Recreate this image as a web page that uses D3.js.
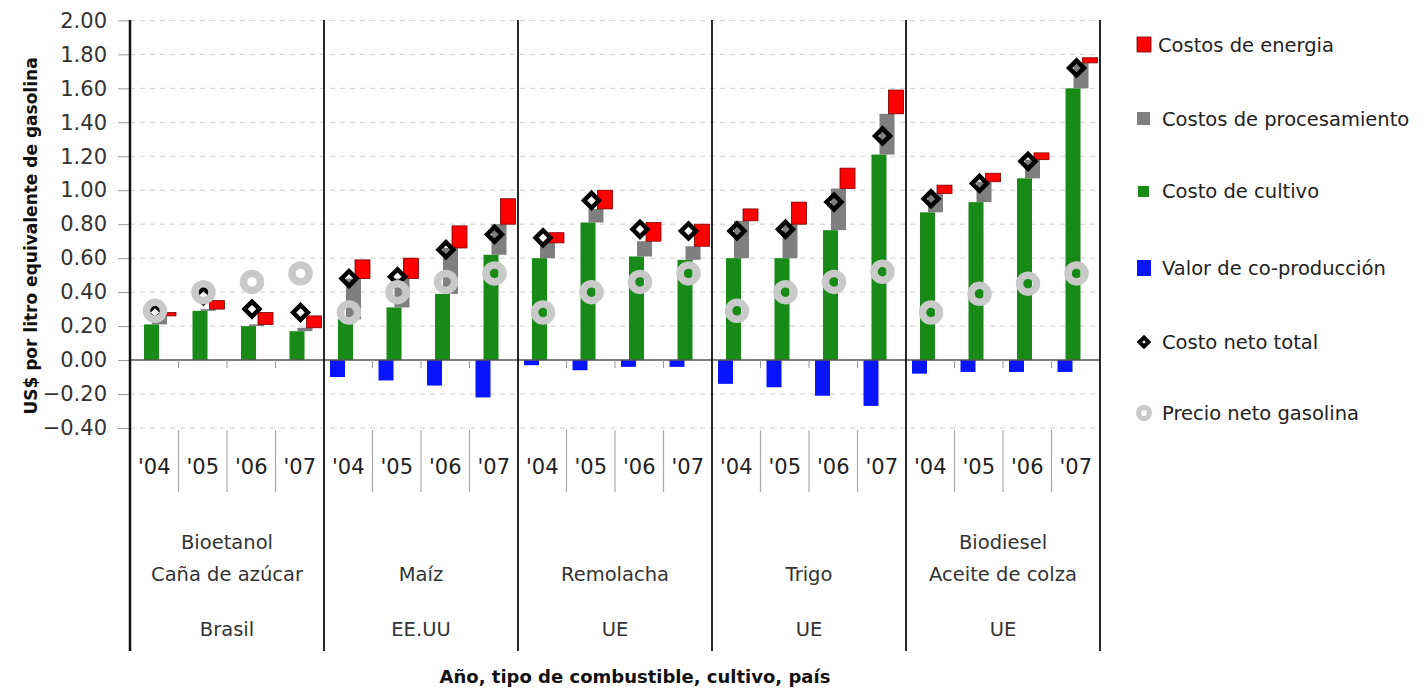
<!DOCTYPE html>
<html>
<head>
<meta charset="utf-8">
<script src="https://cdn.jsdelivr.net/npm/d3@7"></script>
<style>
  body { margin: 0; background: #fff; }
  svg { display: block; font-family: "DejaVu Sans", sans-serif; }
</style>
</head>
<body>
<div id="chart"></div>
<script>
// Data (US$ per litre gasoline equivalent)
const years = ["'04", "'05", "'06", "'07"];
const groupFuel = ["Bioetanol", "", "", "", "Biodiesel"];
const groupCrop = ["Caña de azúcar", "Maíz", "Remolacha", "Trigo", "Aceite de colza"];
const groupCountry = ["Brasil", "EE.UU", "UE", "UE", "UE"];

const costoCultivo = [0.21, 0.29, 0.20, 0.17, 0.24, 0.31, 0.39, 0.62, 0.60, 0.81, 0.61, 0.59, 0.60, 0.60, 0.765, 1.21, 0.87, 0.93, 1.07, 1.60];
const costosProcesamiento = [0.05, 0.01, 0.01, 0.02, 0.24, 0.17, 0.27, 0.18, 0.09, 0.08, 0.09, 0.08, 0.22, 0.20, 0.245, 0.24, 0.11, 0.12, 0.11, 0.15];
const costosEnergia = [0.02, 0.05, 0.07, 0.07, 0.11, 0.12, 0.13, 0.15, 0.06, 0.11, 0.11, 0.13, 0.07, 0.13, 0.12, 0.14, 0.05, 0.05, 0.04, 0.03];
const valorCoproduccion = [0, 0, 0, 0, -0.10, -0.12, -0.15, -0.22, -0.03, -0.06, -0.04, -0.04, -0.14, -0.16, -0.21, -0.27, -0.08, -0.07, -0.07, -0.07];
const costoNetoTotal = [0.28, 0.38, 0.30, 0.28, 0.48, 0.49, 0.65, 0.74, 0.72, 0.94, 0.77, 0.76, 0.76, 0.77, 0.93, 1.32, 0.95, 1.04, 1.17, 1.72];
const precioGasolina = [0.29, 0.40, 0.46, 0.51, 0.28, 0.40, 0.46, 0.51, 0.28, 0.40, 0.46, 0.51, 0.29, 0.40, 0.46, 0.52, 0.28, 0.39, 0.45, 0.51];
const yTicks = [-0.4, -0.2, 0, 0.2, 0.4, 0.6, 0.8, 1.0, 1.2, 1.4, 1.6, 1.8, 2.0];

const legendLabels = ["Costos de energia", "Costos de procesamiento", "Costo de cultivo", "Valor de co-producción", "Costo neto total", "Precio neto gasolina"];

// colours
const cRed = "#ff0000", cGray = "#7f7f7f", cGreen = "#178a17", cBlue = "#0814ff", cRing = "#c9c9c9";

const width = 1424, height = 691;
const svg = d3.select("#chart").append("svg").attr("width", width).attr("height", height);

const left = 130, right = 1100;
const slots = d3.range(groupCrop.length * years.length);
const x = d3.scaleBand().domain(slots).range([left, right]).padding(0);
const y = d3.scaleLinear().domain([-0.4, 2.0]).range([428, 20.4]);
const bw = 15;

// gridlines (dashed, faint)
svg.append("g").selectAll("line").data(yTicks.filter(d => d !== 0)).join("line")
  .attr("x1", left).attr("x2", right)
  .attr("y1", d => y(d)).attr("y2", d => y(d))
  .attr("stroke", "#cfcfcf").attr("stroke-width", 1).attr("stroke-dasharray", "5,5");

// y axis
const yAxis = svg.append("g").attr("transform", `translate(${left},0)`)
  .call(d3.axisLeft(y).tickValues(yTicks).tickFormat(d3.format(".2f")).tickSize(12).tickPadding(11));
yAxis.select(".domain").remove();
yAxis.selectAll(".tick line").attr("stroke", "#999");
yAxis.selectAll(".tick text").attr("font-size", 21).attr("fill", "#333")
  .attr("font-family", "DejaVu Sans, sans-serif");

// bars
const bars = svg.append("g");
bars.selectAll("rect.cop").data(slots).join("rect").attr("class", "cop")
  .attr("x", i => x(i) + 6).attr("width", bw)
  .attr("y", y(0)).attr("height", i => y(valorCoproduccion[i]) - y(0))
  .attr("fill", cBlue);
bars.selectAll("rect.cul").data(slots).join("rect").attr("class", "cul")
  .attr("x", i => x(i) + 14).attr("width", bw)
  .attr("y", i => y(costoCultivo[i])).attr("height", i => y(0) - y(costoCultivo[i]))
  .attr("fill", cGreen);
bars.selectAll("rect.pro").data(slots).join("rect").attr("class", "pro")
  .attr("x", i => x(i) + 22).attr("width", bw)
  .attr("y", i => y(costoCultivo[i] + costosProcesamiento[i]))
  .attr("height", i => y(costoCultivo[i]) - y(costoCultivo[i] + costosProcesamiento[i]))
  .attr("fill", cGray);
bars.selectAll("rect.ene").data(slots).join("rect").attr("class", "ene")
  .attr("x", i => x(i) + 31).attr("width", bw)
  .attr("y", i => y(costoCultivo[i] + costosProcesamiento[i] + costosEnergia[i]))
  .attr("height", i => y(costoCultivo[i] + costosProcesamiento[i]) - y(costoCultivo[i] + costosProcesamiento[i] + costosEnergia[i]))
  .attr("fill", cRed).attr("stroke", "#7a0000").attr("stroke-width", 0.8);

// zero line and frame lines
svg.append("line").attr("x1", left).attr("x2", right).attr("y1", y(0)).attr("y2", y(0))
  .attr("stroke", "#555").attr("stroke-width", 1.5);
// small ticks at zero between slots
svg.append("g").selectAll("line").data(slots.filter(i => i % 4 !== 0)).join("line")
  .attr("x1", i => x(i)).attr("x2", i => x(i)).attr("y1", y(0)).attr("y2", y(0) + 8)
  .attr("stroke", "#999");
// year dividers below the plot
svg.append("g").selectAll("line").data(slots.filter(i => i % 4 !== 0)).join("line")
  .attr("x1", i => x(i)).attr("x2", i => x(i)).attr("y1", 430).attr("y2", 492)
  .attr("stroke", "#aaa").attr("stroke-width", 1.2);
// group dividers (full height)
const groupEdges = d3.range(groupCrop.length + 1).map(g => g < groupCrop.length ? x(g * 4) : right);
svg.append("g").selectAll("line").data(groupEdges).join("line")
  .attr("x1", d => d).attr("x2", d => d).attr("y1", 20).attr("y2", 651)
  .attr("stroke", "#111").attr("stroke-width", (d, i) => i === 0 ? 2.5 : 1.8);

// markers: costo neto total (diamond) then precio gasolina (ring)
const diamond = d3.symbol().type(d3.symbolSquare).size(110);
svg.append("g").selectAll("path").data(slots).join("path")
  .attr("d", diamond)
  .attr("transform", i => `translate(${x(i) + 25},${y(costoNetoTotal[i])}) rotate(45)`)
  .attr("fill", "none").attr("stroke", "#000").attr("stroke-width", 4.5);
svg.append("g").selectAll("circle").data(slots).join("circle")
  .attr("cx", i => x(i) + 25).attr("cy", i => y(precioGasolina[i])).attr("r", 8.5)
  .attr("fill", "none").attr("stroke", cRing).attr("stroke-width", 7.5);

// year labels
svg.append("g").selectAll("text").data(slots).join("text")
  .attr("x", i => x(i) + x.bandwidth() / 2).attr("y", 474)
  .attr("text-anchor", "middle").attr("font-size", 21).attr("fill", "#222")
  .text(i => years[i % 4]);

// group labels
const gLab = svg.append("g").attr("font-size", 19.5).attr("fill", "#333").attr("text-anchor", "middle");
groupCrop.forEach((crop, g) => {
  const cx = (groupEdges[g] + groupEdges[g + 1]) / 2;
  if (groupFuel[g]) gLab.append("text").attr("x", cx).attr("y", 549).text(groupFuel[g]);
  gLab.append("text").attr("x", cx).attr("y", 581).text(crop);
  gLab.append("text").attr("x", cx).attr("y", 636).text(groupCountry[g]);
});

// axis titles
svg.append("text").attr("transform", "translate(37,236) rotate(-90)")
  .attr("text-anchor", "middle").attr("font-size", 17).attr("font-weight", "bold").attr("fill", "#111")
  .text("US$ por litro equivalente de gasolina");
svg.append("text").attr("x", 635).attr("y", 683)
  .attr("text-anchor", "middle").attr("font-size", 18).attr("font-weight", "bold").attr("fill", "#111")
  .text("Año, tipo de combustible, cultivo, país");

// legend
const legY = [45, 119, 191, 268, 342, 413];
const leg = svg.append("g");
legendLabels.forEach((lab, k) => {
  const ly = legY[k];
  if (k === 0) leg.append("rect").attr("x", 1137).attr("y", ly - 8).attr("width", 14).attr("height", 15).attr("fill", cRed).attr("stroke", "#7a0000").attr("stroke-width", 0.8);
  if (k === 1) leg.append("rect").attr("x", 1137).attr("y", ly - 7).attr("width", 13).attr("height", 13).attr("fill", cGray);
  if (k === 2) leg.append("rect").attr("x", 1138).attr("y", ly - 5).attr("width", 11).attr("height", 11).attr("fill", cGreen);
  if (k === 3) leg.append("rect").attr("x", 1137).attr("y", ly - 8).attr("width", 14).attr("height", 16).attr("fill", cBlue);
  if (k === 4) leg.append("path").attr("d", d3.symbol().type(d3.symbolSquare).size(40))
    .attr("transform", `translate(1144,${ly}) rotate(45)`).attr("fill", "none").attr("stroke", "#000").attr("stroke-width", 4);
  if (k === 5) leg.append("circle").attr("cx", 1144).attr("cy", ly).attr("r", 5.5)
    .attr("fill", "none").attr("stroke", cRing).attr("stroke-width", 5);
  leg.append("text").attr("x", k === 0 ? 1158 : 1162).attr("y", ly + 7)
    .attr("font-size", 19.5).attr("fill", "#222").text(lab);
});
</script>
</body>
</html>
